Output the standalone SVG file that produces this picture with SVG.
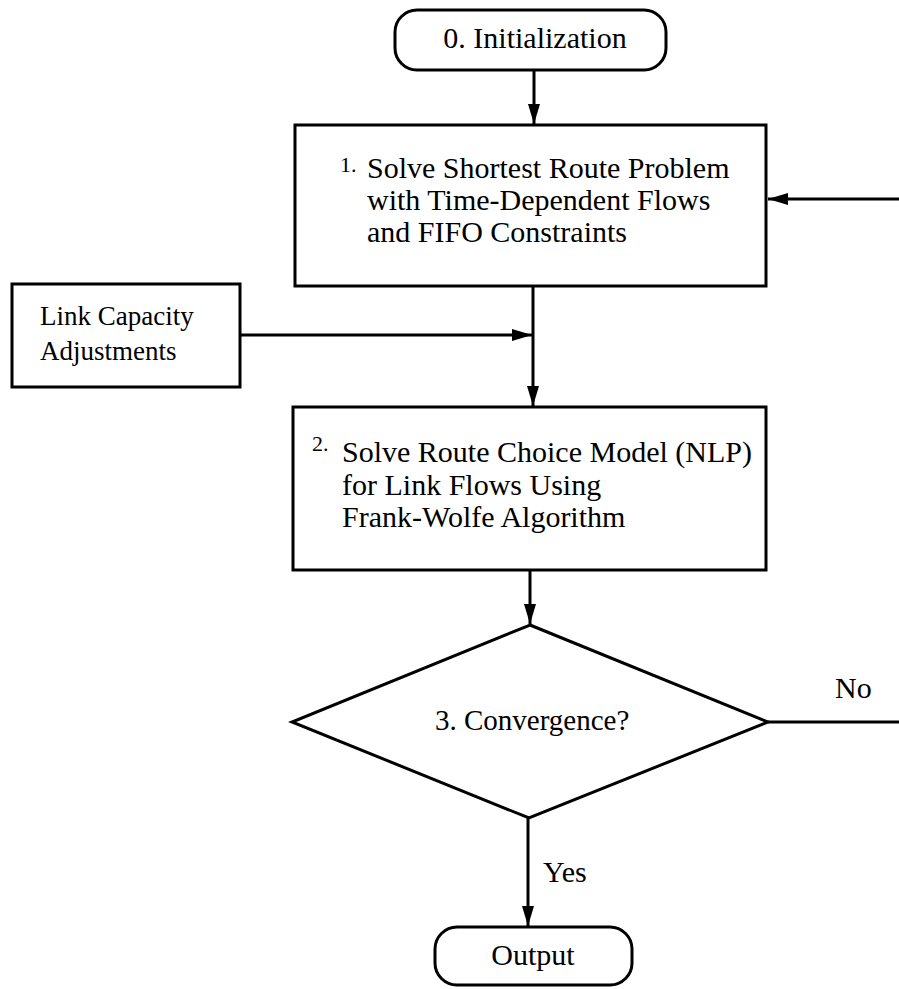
<svg xmlns="http://www.w3.org/2000/svg" width="899" height="989" viewBox="0 0 899 989">
<style>
.box{fill:#fff;stroke:#000;stroke-width:3}
.ln{fill:none;stroke:#000;stroke-width:3}
.t{font-family:"Liberation Serif","Times New Roman",serif;font-size:30px;fill:#000}
.s{font-family:"Liberation Serif","Times New Roman",serif;font-size:22px;fill:#000}
.l{font-family:"Liberation Serif","Times New Roman",serif;font-size:27px;fill:#000}
</style>
<defs>
<marker id="arr" viewBox="0 0 20 12" refX="20" refY="6" markerWidth="20" markerHeight="12" markerUnits="userSpaceOnUse" orient="auto">
<path d="M0,0 L20,6 L0,12 z" fill="#000"/>
</marker>
</defs>
<rect width="899" height="989" fill="#fff"/>
<g id="connectors">
<line class="ln" x1="534" y1="70" x2="534" y2="124" marker-end="url(#arr)"/>
<line class="ln" x1="899" y1="199" x2="768" y2="199" marker-end="url(#arr)"/>
<line class="ln" x1="533" y1="286" x2="533" y2="406" marker-end="url(#arr)"/>
<line class="ln" x1="240" y1="335" x2="532" y2="335" marker-end="url(#arr)"/>
<line class="ln" x1="530" y1="570" x2="530" y2="624" marker-end="url(#arr)"/>
<line class="ln" x1="768" y1="722" x2="899" y2="722"/>
<line class="ln" x1="528" y1="818" x2="528" y2="926" marker-end="url(#arr)"/>
<text class="t" x="835" y="698">No</text>
<text class="t" x="543" y="882">Yes</text>
</g>
<g id="init">
<rect class="box" x="395" y="10" width="271" height="60" rx="22"/>
<text class="t" x="535" y="48" text-anchor="middle">0. Initialization</text>
</g>
<g id="step1">
<rect class="box" x="295" y="125" width="471" height="161"/>
<text class="s" x="340" y="172">1.</text>
<text class="t" x="367" y="178">Solve Shortest Route Problem</text>
<text class="t" x="367" y="210">with Time-Dependent Flows</text>
<text class="t" x="367" y="242">and FIFO Constraints</text>
</g>
<g id="linkcap">
<rect class="box" x="12" y="284" width="228" height="103"/>
<text class="l" x="40" y="325">Link Capacity</text>
<text class="l" x="40" y="360">Adjustments</text>
</g>
<g id="step2">
<rect class="box" x="293" y="407" width="473" height="163"/>
<text class="s" x="312" y="451">2.</text>
<text class="t" x="342" y="462">Solve Route Choice Model (NLP)</text>
<text class="t" x="342" y="495">for Link Flows Using</text>
<text class="t" x="342" y="527">Frank-Wolfe Algorithm</text>
</g>
<g id="step3">
<polygon class="box" points="530,625 768,722 529,818 292,722"/>
<text class="t" x="435" y="730" style="font-size:29px">3. Convergence?</text>
</g>
<g id="output">
<rect class="box" x="435" y="927" width="197" height="58" rx="22"/>
<text class="t" x="533" y="965" text-anchor="middle">Output</text>
</g>
</svg>
